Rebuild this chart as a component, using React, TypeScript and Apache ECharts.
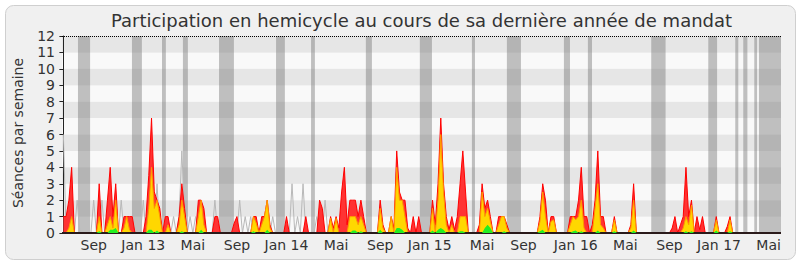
import React, { useEffect, useRef } from "react";
import * as echarts from "echarts";

const FONT = "'DejaVu Sans', 'Noto Sans', sans-serif";
const TITLE = "Participation en hemicycle au cours de sa dernière année de mandat";
const Y_NAME = "Séances par semaine";

// one category per week (261 weeks, June 2012 -> May 2017)
const WEEKS: string[] = Array.from({ length: 261 }, (_, i) => "S" + i);

const TICK_WEEKS = [11, 29, 47, 63, 81, 99, 115, 133, 152, 167, 186, 204, 220, 238, 256];
const TICK_LABELS = ["Sep", "Jan 13", "Mai", "Sep", "Jan 14", "Mai", "Sep", "Jan 15", "Mai", "Sep", "Jan 16", "Mai", "Sep", "Jan 17", "Mai"];

// parliamentary holidays, in weeks [start, end]
const HOLIDAYS: [number, number][] = [
  [5.3, 9.7], [24.9, 28.5], [35.8, 37.2], [43.4, 45.2], [56.5, 61.9], [77.2, 80.4],
  [89.9, 91.3], [109.8, 112], [129.4, 133.8], [148.3, 149.4], [161, 166.1], [181.7, 183.9],
  [190.4, 191.9], [213.4, 218.6], [234.1, 237.3], [243.9, 245], [246.8, 248.3],
  [250.8, 251.8], [252.5, 260.5],
];

// présences (red)
const PRESENCES = [
  1, 1, 2, 4, 0, 0, 0, 0, 0, 0,
  0, 0, 0, 3, 0, 0, 2, 4, 1, 3,
  0, 0, 1, 1, 1, 1, 0, 0, 0, 0,
  1, 3.5, 7, 2.5, 2, 1.5, 0, 1, 1, 0,
  0, 0, 1, 3, 1.5, 0, 0, 0, 0, 2,
  2, 1.5, 0, 0, 0, 1, 1, 0, 0, 0,
  0, 0, 0.6, 1, 0, 0, 0, 0, 0, 1,
  1, 0, 1, 1, 2, 0.5, 0, 0, 0, 0,
  0, 1, 0, 0, 0, 0, 0, 0, 1, 0,
  0, 0, 0, 2, 1.5, 0, 0, 1, 0.3, 1,
  0.3, 2.5, 4, 0.5, 2, 2, 2, 1, 2, 1,
  0, 0, 0, 0, 0, 2, 0.5, 0, 0, 1,
  0.3, 5, 2.5, 2, 2, 0.3, 0, 1, 0, 1,
  0, 0, 0, 0, 2, 0.5, 3, 7, 3, 1,
  0.2, 1, 0.2, 1, 3, 5, 2.5, 0, 0, 0,
  0, 0.5, 3, 1.5, 2, 1, 0, 0, 1, 1,
  1, 0.5, 0, 0, 0, 0, 0, 0, 0, 0,
  0, 0, 0, 1, 3, 2, 0, 1, 1, 0,
  0, 0, 0, 0, 1, 1, 1, 2, 4, 1,
  1, 0, 0.5, 2, 5, 1, 1, 0, 0, 0,
  1, 0, 0, 0, 0, 0, 0.5, 3, 0, 0,
  0, 0, 0, 0, 0, 0, 0, 0, 0, 0,
  0, 0.3, 1, 0, 0.5, 1, 4, 1, 2, 0,
  1, 0.2, 1, 0, 0, 0, 0, 1, 0, 0,
  0, 0.4, 1, 0, 0, 0, 0, 0, 0, 0,
  0, 0, 0, 0, 0, 0, 0, 0, 0, 0, 0,
];

// interventions (yellow)
const INTERVENTIONS = [
  0, 0, 0.3, 1, 0, 0, 0, 0, 0, 0,
  0, 0, 0, 1, 0, 0, 0.5, 1, 0.3, 2,
  0, 0, 0.3, 1, 0.2, 0, 0, 0, 0, 0,
  0, 1.5, 4, 1.5, 2, 1, 0, 0, 0.5, 0,
  0, 0, 0.5, 2, 1, 0, 0, 0, 0, 1,
  2, 0.5, 0, 0, 0, 0, 0, 0, 0, 0,
  0, 0, 0, 0, 0, 0, 0, 0, 0, 1,
  0.6, 0, 0.5, 1, 2, 0.3, 0, 0, 0, 0,
  0, 0, 0, 0, 0, 0, 0, 0, 0, 0,
  0, 0, 0, 0, 0, 0, 0, 0.9, 0, 0.9,
  0, 0, 0, 0, 1, 1, 1, 0.5, 1, 0.5,
  0, 0, 0, 0, 0, 1.5, 0.3, 0, 0, 1,
  0, 4, 2, 2, 1, 0, 0, 0, 0, 0,
  0, 0, 0, 0, 1.5, 0, 2, 6, 2.5, 0.5,
  0, 0.5, 0, 0, 1, 1, 1, 0, 0, 0,
  0, 0, 2.5, 1, 1.5, 0.7, 0, 0, 0.5, 1,
  1, 0.3, 0, 0, 0, 0, 0, 0, 0, 0,
  0, 0, 0, 0.7, 2.5, 1, 0, 0.7, 0.8, 0,
  0, 0, 0, 0, 0.5, 1, 0.8, 1, 2, 0.3,
  0, 0, 0, 1.5, 3, 0.5, 0.3, 0, 0, 0,
  0.8, 0, 0, 0, 0, 0, 0.3, 2, 0, 0,
  0, 0, 0, 0, 0, 0, 0, 0, 0, 0,
  0, 0, 0, 0, 0, 0.3, 1, 0.5, 1.7, 0,
  0, 0, 0, 0, 0, 0, 0, 0.8, 0, 0,
  0, 0, 0.8, 0, 0, 0, 0, 0, 0, 0,
  0, 0, 0, 0, 0, 0, 0, 0, 0, 0, 0,
];

// questions (green)
const QUESTIONS = [
  0, 0, 0, 0, 0, 0, 0, 0, 0, 0,
  0, 0, 0, 0.1, 0, 0, 0, 0.2, 0.2, 0.3,
  0, 0, 0, 0, 0, 0, 0, 0, 0, 0,
  0, 0.2, 0.2, 0, 0.15, 0, 0, 0, 0, 0,
  0, 0, 0, 0.1, 0, 0, 0, 0, 0, 0,
  0.2, 0, 0, 0, 0, 0, 0, 0, 0, 0,
  0, 0, 0, 0, 0, 0, 0, 0, 0, 0.1,
  0, 0, 0, 0, 0.2, 0, 0, 0, 0, 0,
  0, 0, 0, 0, 0, 0, 0, 0, 0, 0,
  0, 0, 0, 0, 0, 0, 0, 0, 0, 0,
  0, 0, 0, 0, 0, 0.15, 0.15, 0, 0.1, 0,
  0, 0, 0, 0, 0, 0.2, 0, 0, 0, 0,
  0, 0.3, 0.3, 0.2, 0, 0, 0, 0, 0, 0,
  0, 0, 0, 0, 0.15, 0, 0.2, 0.3, 0.2, 0,
  0, 0, 0, 0, 0.1, 0.1, 0, 0, 0, 0,
  0, 0, 0, 0.3, 0.5, 0.3, 0, 0, 0, 0,
  0.1, 0, 0, 0, 0, 0, 0, 0, 0, 0,
  0, 0, 0, 0.1, 0.2, 0, 0, 0, 0, 0,
  0, 0, 0, 0, 0, 0.1, 0.15, 0, 0.1, 0,
  0, 0, 0, 0, 0.15, 0, 0, 0, 0, 0,
  0.1, 0, 0, 0, 0, 0, 0, 0.15, 0, 0,
  0, 0, 0, 0, 0, 0, 0, 0, 0, 0,
  0, 0, 0, 0, 0, 0, 0.1, 0, 0.1, 0,
  0, 0, 0, 0, 0, 0, 0, 0.15, 0, 0,
  0, 0, 0.1, 0, 0, 0, 0, 0, 0, 0,
  0, 0, 0, 0, 0, 0, 0, 0, 0, 0, 0,
];

// médiane (gray line)
const MEDIANE = [
  6, 0, 0, 0, 0, 2, 0, 0, 0, 0,
  0, 2, 0, 0, 2, 0, 0, 0, 0, 0,
  0, 2, 0, 0, 0, 0, 0, 0, 0, 2,
  0, 0, 0, 0, 3, 0, 0, 0, 0, 0,
  1, 0, 1, 5, 1, 0, 1, 0, 1, 0,
  0, 0, 0, 0, 0, 2, 0, 0, 0, 0,
  0, 0, 0, 0, 2, 0, 1, 0, 1, 0,
  0, 0, 0, 0, 0, 0, 1, 0, 0, 0,
  0, 0, 0, 3, 0, 1, 0, 3, 0, 0,
  0, 0, 1, 0, 0, 2, 0, 0, 0, 0,
  0, 0, 0, 0, 0, 0, 0, 0, 0, 0,
  0, 0, 0, 0, 0, 0, 0, 0, 0, 0,
  0, 0, 0, 0, 0, 0, 0, 0, 0, 0,
  0, 0, 0, 0, 0, 0, 0, 0, 0, 0,
  0, 0, 0, 0, 0, 0, 0, 0, 0, 0,
  0, 0, 0, 0, 0, 0, 0, 0, 0, 0,
  0, 0, 0, 0, 0, 0, 0, 0, 0, 0,
  0, 0, 0, 0, 0, 0, 0, 0, 0, 0,
  0, 0, 0, 0, 0, 0, 0, 0, 0, 0,
  0, 0, 0, 0, 0, 0, 0, 0, 0, 0,
  0, 0, 0, 0, 0, 0, 0, 0, 0, 0,
  0, 0, 0, 0, 0, 0, 0, 0, 0, 0,
  0, 0, 0, 0, 0, 0, 0, 0, 0, 0,
  0, 0, 0, 0, 0, 0, 0, 0, 0, 0,
  0, 0, 0, 0, 0, 0, 0, 0, 0, 0,
  0, 0, 0, 0, 0, 0, 0, 0, 0, 0, 0,
];

export default function App() {
  const ref = useRef<HTMLDivElement>(null);
  useEffect(() => {
    document.body.style.margin = "0";
    const chart = echarts.init(ref.current!, null, { renderer: "svg" });

    const area = (name: string, data: number[], line: string, lineWidth: number, fill: string | null, z: number) => ({
      name,
      type: "line",
      data,
      xAxisIndex: 0,
      yAxisIndex: 0,
      symbol: "none",
      showSymbol: false,
      silent: true,
      z,
      lineStyle: { color: line, width: lineWidth },
      areaStyle: fill ? { color: fill, opacity: 1 } : undefined,
      emphasis: { disabled: true },
    });

    chart.setOption({
      animation: false,
      backgroundColor: "#ffffff",
      textStyle: { fontFamily: FONT },
      graphic: [
        {
          type: "rect",
          z: -10,
          silent: true,
          shape: { x: 5.5, y: 5.5, width: 790, height: 254, r: 8 },
          style: { fill: "#f0f0f0", stroke: "#cfcfcf", lineWidth: 1 },
        },
        {
          type: "text",
          x: 421.5,
          y: 20,
          silent: true,
          style: {
            text: TITLE,
            fill: "#333333",
            font: `18px ${FONT}`,
            textAlign: "center",
            textVerticalAlign: "middle",
          },
        },
        {
          type: "text",
          x: 18,
          y: 133,
          rotation: Math.PI / 2,
          silent: true,
          style: {
            text: Y_NAME,
            fill: "#333333",
            font: `14px ${FONT}`,
            textAlign: "center",
            textVerticalAlign: "middle",
          },
        },
      ],
      grid: { left: 62, top: 36, width: 719, height: 197, containLabel: false },
      xAxis: [
        {
          type: "category",
          data: WEEKS,
          boundaryGap: true,
          axisLine: { show: false },
          axisTick: { show: false },
          splitLine: { show: false },
          axisLabel: {
            interval: (i: number) => TICK_WEEKS.includes(i),
            formatter: (_v: string, i: number) => {
              const k = TICK_WEEKS.indexOf(i);
              return k >= 0 ? TICK_LABELS[k] : "";
            },
            color: "#333333",
            fontSize: 14,
            fontFamily: FONT,
            margin: 5,
          },
        },
        { type: "value", min: -0.5, max: 260.5, show: false },
      ],
      yAxis: {
        type: "value",
        min: 0,
        max: 12,
        interval: 1,
        axisLine: { show: true, lineStyle: { color: "#222222" } },
        axisTick: { show: true, length: 4, lineStyle: { color: "#222222" } },
        axisLabel: { color: "#333333", fontSize: 14, fontFamily: FONT, margin: 7 },
        splitLine: { show: false },
        splitArea: { show: true, areaStyle: { color: ["#f9f9f9", "#e6e6e6"] } },
      },
      series: [
        {
          name: "vacances",
          type: "line",
          xAxisIndex: 1,
          yAxisIndex: 0,
          data: [[0, 0]],
          symbol: "none",
          silent: true,
          z: 1,
          lineStyle: { opacity: 0, width: 0 },
          markArea: {
            silent: true,
            itemStyle: { color: "rgba(120,120,120,0.45)" },
            data: HOLIDAYS.map(([a, b]) => [{ xAxis: a }, { xAxis: b }]),
          },
          markLine: {
            silent: true,
            symbol: ["none", "none"],
            label: { show: false },
            lineStyle: { type: "dotted", color: "#000000", width: 1 },
            data: [{ yAxis: 12 }],
          },
        },
        area("médiane", MEDIANE, "#b8b8b8", 1, null, 2),
        area("présences", PRESENCES, "#ff0000", 1, "#ff3333", 3),
        area("interventions", INTERVENTIONS, "#ff9900", 1, "#ffd700", 4),
        area("questions", QUESTIONS, "#22ee22", 0, "#22ee22", 5),
        {
          name: "axe",
          type: "line",
          xAxisIndex: 1,
          yAxisIndex: 0,
          data: [[0, 0]],
          symbol: "none",
          silent: true,
          z: 20,
          lineStyle: { opacity: 0, width: 0 },
          markLine: {
            silent: true,
            symbol: ["none", "none"],
            label: { show: false },
            lineStyle: { type: "solid", color: "#2a1a1a", width: 2 },
            data: [{ yAxis: 0 }],
          },
        },
      ],
    });
    return () => chart.dispose();
  }, []);
  return <div ref={ref} style={{ width: 800, height: 267 }} />;
}
